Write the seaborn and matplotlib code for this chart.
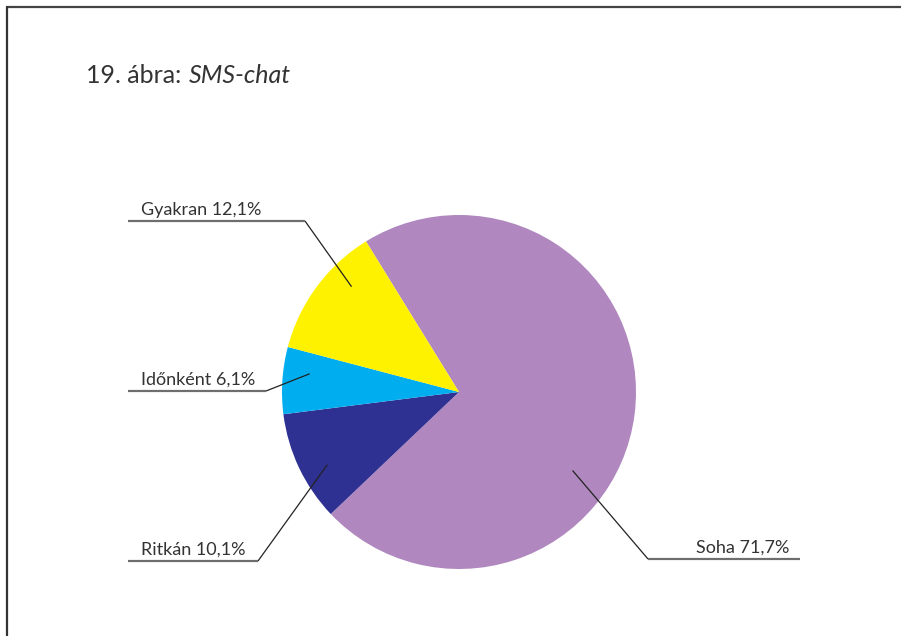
import matplotlib
matplotlib.use("Agg")
import matplotlib.pyplot as plt
import seaborn as sns
import numpy as np
from matplotlib.lines import Line2D

# Survey answers for SMS-chat usage
categories = ["Soha", "Ritkán", "Időnként", "Gyakran"]
shares = [71.7, 10.1, 6.1, 12.1]
colors = ["#B088BF", "#2E3192", "#00AEEF", "#FFF200"]
title_prefix = "19. ábra:"
title_topic = "SMS-chat"

sns.set_theme(style="white")
plt.rcParams["font.family"] = ["Lato", "DejaVu Sans"]

W, H = 901, 636
fig = plt.figure(figsize=(W / 100, H / 100), dpi=100)
ax = fig.add_axes([0, 0, 1, 1])
ax.set_xlim(0, W)
ax.set_ylim(0, H)
ax.set_aspect("equal")
ax.axis("off")


def py(y):
    """Convert a top-down pixel row into the axes' bottom-up y."""
    return H - y


center = (459, py(392))
radius = 177
palette = sns.color_palette(colors)

wedges, _ = ax.pie(shares, colors=palette, startangle=121.7, counterclock=False,
                   center=center, radius=radius, frame=False,
                   wedgeprops=dict(linewidth=0))
ax.set_xlim(0, W)
ax.set_ylim(0, H)

# label layout: anchor inside wedge (angle offset from mid-angle, radius fraction),
# elbow point, far end of underline, text x, alignment
layout = {
    "Soha":     dict(dang=-27.3, rf=0.78, elbow=(648, 559), end=800, tx=789, ha="right"),
    "Ritkán":   dict(dang=3.5, rf=0.85, elbow=(258, 561), end=128, tx=141, ha="left"),
    "Időnként": dict(dang=-3.2, rf=0.85, elbow=(266, 391), end=128, tx=141, ha="left"),
    "Gyakran":  dict(dang=-7.9, rf=0.85, elbow=(305, 221), end=128, tx=141, ha="left"),
}

for w, cat, val in zip(wedges, categories, shares):
    lay = layout[cat]
    mid = np.deg2rad((w.theta1 + w.theta2) / 2 + lay["dang"])
    ax_x = center[0] + radius * lay["rf"] * np.cos(mid)
    ax_y = center[1] + radius * lay["rf"] * np.sin(mid)
    ex, ey = lay["elbow"]
    ax.plot([ax_x, ex], [ax_y, py(ey)], color="#222222", lw=0.9,
            solid_capstyle="butt")
    ax.plot([ex, lay["end"]], [py(ey), py(ey)], color="#6e6e6e", lw=1.6,
            solid_capstyle="butt")
    label = f"{cat} {val:.1f}%".replace(".", ",")
    ax.text(lay["tx"], py(ey) + 6, label, ha=lay["ha"], va="baseline",
            fontsize=13, color="#333333")

# heading
fig.text(86 / W, 1 - 83 / H, title_prefix, fontsize=18, color="#333333",
         va="baseline", ha="left")
fig.text(189 / W, 1 - 83 / H, title_topic, fontsize=18, color="#333333",
         style="italic", va="baseline", ha="left")

# open frame: top and left edges
fig.add_artist(Line2D([7 / W, 1], [1 - 7 / H, 1 - 7 / H], transform=fig.transFigure,
                      color="#444444", lw=1.6))
fig.add_artist(Line2D([7 / W, 7 / W], [0, 1 - 7 / H], transform=fig.transFigure,
                      color="#333333", lw=1.6))

fig.savefig("out.png", dpi=100, facecolor="white")
